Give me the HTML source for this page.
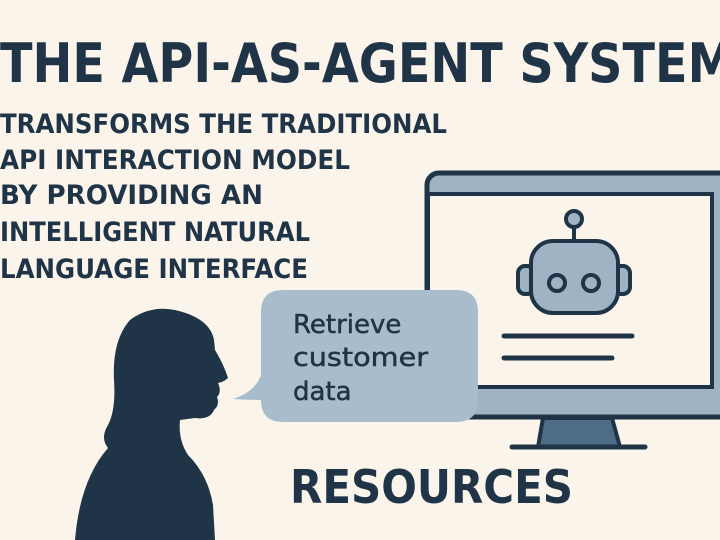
<!DOCTYPE html>
<html><head><meta charset="utf-8"><style>
html,body{margin:0;padding:0;background:#fbf4ea;}
svg{display:block}
text{font-family:"DejaVu Sans","Liberation Sans",sans-serif;fill:#1f3447}
</style></head><body>
<svg width="720" height="540" viewBox="0 0 720 540" xmlns="http://www.w3.org/2000/svg">
<rect width="720" height="540" fill="#fbf4ea"/>
<text x="0" y="82" font-size="54" font-weight="bold" textLength="735" lengthAdjust="spacingAndGlyphs">THE API-AS-AGENT SYSTEM</text>
<g font-size="27" font-weight="bold">
<text x="0" y="133" textLength="447" lengthAdjust="spacingAndGlyphs">TRANSFORMS THE TRADITIONAL</text>
<text x="0" y="169" textLength="350" lengthAdjust="spacingAndGlyphs">API INTERACTION MODEL</text>
<text x="0" y="204" textLength="263" lengthAdjust="spacingAndGlyphs">BY PROVIDING AN</text>
<text x="0" y="241" textLength="310" lengthAdjust="spacingAndGlyphs">INTELLIGENT NATURAL</text>
<text x="0" y="278" textLength="308" lengthAdjust="spacingAndGlyphs">LANGUAGE INTERFACE</text>
</g>
<rect x="427" y="173" width="310" height="244" rx="12" fill="#9fb3c4" stroke="#1f3447" stroke-width="5"/>
<rect x="428" y="194" width="284" height="193" fill="#fbf4ea" stroke="#1f3447" stroke-width="4"/>
<polygon points="543,418 612,418 620,447 538,447" fill="#4e6b87" stroke="#1f3447" stroke-width="4"/>
<line x1="512" y1="447" x2="645" y2="447" stroke="#1f3447" stroke-width="5" stroke-linecap="round"/>
<line x1="574" y1="226" x2="574" y2="242" stroke="#1f3447" stroke-width="4"/>
<circle cx="574" cy="219" r="8" fill="#9fb3c4" stroke="#1f3447" stroke-width="4"/>
<rect x="518" y="266" width="16" height="28" rx="7" fill="#9fb3c4" stroke="#1f3447" stroke-width="4"/>
<rect x="614" y="266" width="16" height="28" rx="7" fill="#9fb3c4" stroke="#1f3447" stroke-width="4"/>
<rect x="531" y="241" width="87" height="72" rx="22" fill="#9fb3c4" stroke="#1f3447" stroke-width="4"/>
<circle cx="557" cy="283" r="8" fill="#9fb3c4" stroke="#1f3447" stroke-width="4"/>
<circle cx="591" cy="283" r="8" fill="#9fb3c4" stroke="#1f3447" stroke-width="4"/>
<line x1="504" y1="336" x2="632" y2="336" stroke="#1f3447" stroke-width="5" stroke-linecap="round"/>
<line x1="504" y1="358" x2="612" y2="358" stroke="#1f3447" stroke-width="5" stroke-linecap="round"/>
<path d="M283,290 H456 Q478,290 478,312 V400 Q478,422 456,422 H283 Q261,422 261,400 V400 Q250,400 233,399 Q255,392 261,375 V312 Q261,290 283,290 Z" fill="#a9bccb"/>
<g font-size="26" fill="#1a2e40">
<text x="293" y="333" stroke="#1f3447" stroke-width="0.5">Retrieve</text>
<text x="293" y="366" stroke="#1f3447" stroke-width="0.5" textLength="135" lengthAdjust="spacingAndGlyphs">customer</text>
<text x="293" y="400" stroke="#1f3447" stroke-width="0.5">data</text>
</g>
<path d="M75,540 Q80,480 108,448 Q100,438 108,425 Q116,410 114,380 Q112,340 130,320 Q150,305 175,310 Q210,318 214,340 L215,350 Q224,365 228,378 Q224,382 218,383 Q222,392 217,397 Q220,405 214,410 Q210,420 195,418 L180,420 Q178,440 188,455 Q208,475 213,505 L215,540 Z" fill="#1f3447"/>
<text x="290" y="503" font-size="46" font-weight="bold" textLength="283" lengthAdjust="spacingAndGlyphs">RESOURCES</text>
</svg>
</body></html>
